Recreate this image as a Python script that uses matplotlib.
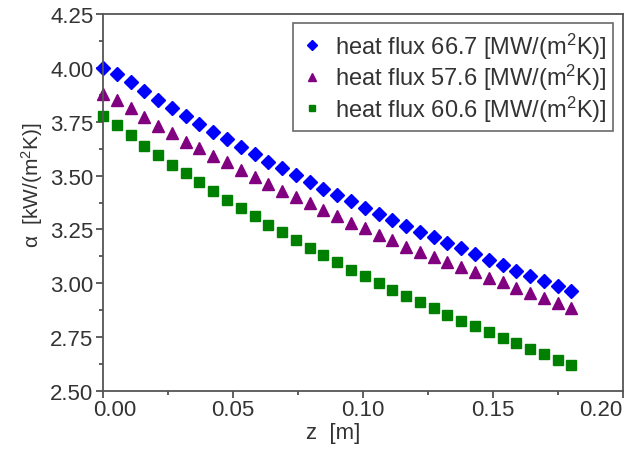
import numpy as np
import matplotlib
matplotlib.use("Agg")
import matplotlib.pyplot as plt
from matplotlib.ticker import MultipleLocator, FormatStrFormatter
from matplotlib.transforms import ScaledTranslation

plt.rcParams['font.family'] = ['Liberation Sans', 'DejaVu Sans']
plt.rcParams['mathtext.fontset'] = 'custom'
plt.rcParams['mathtext.rm'] = 'Liberation Sans'
plt.rcParams['mathtext.default'] = 'regular'

# axial position z [m]
z = [0.0, 0.0053, 0.0106, 0.0159, 0.0212, 0.0265, 0.0318, 0.0371, 0.0424, 0.0477,
     0.0530, 0.0583, 0.0636, 0.0689, 0.0742, 0.0795, 0.0848, 0.0901, 0.0954, 0.1007,
     0.1060, 0.1113, 0.1166, 0.1219, 0.1272, 0.1325, 0.1378, 0.1431, 0.1484, 0.1537,
     0.1590, 0.1643, 0.1696, 0.1749, 0.1802]

# heat transfer coefficient alpha [kW/(m2K)]
alpha_667 = [4.000, 3.971, 3.933, 3.891, 3.852, 3.814, 3.775, 3.739, 3.704, 3.670,
             3.634, 3.600, 3.564, 3.535, 3.503, 3.472, 3.438, 3.411, 3.381, 3.349,
             3.322, 3.295, 3.267, 3.239, 3.213, 3.186, 3.162, 3.136, 3.108, 3.085,
             3.058, 3.035, 3.012, 2.989, 2.966]
alpha_576 = [3.879, 3.852, 3.812, 3.773, 3.731, 3.696, 3.657, 3.628, 3.592, 3.562,
             3.527, 3.492, 3.461, 3.427, 3.402, 3.373, 3.340, 3.314, 3.280, 3.257,
             3.226, 3.202, 3.170, 3.147, 3.121, 3.097, 3.074, 3.051, 3.025, 3.005,
             2.978, 2.955, 2.932, 2.908, 2.884]
alpha_606 = [3.778, 3.736, 3.688, 3.639, 3.595, 3.550, 3.511, 3.469, 3.427, 3.387,
             3.348, 3.311, 3.271, 3.237, 3.201, 3.162, 3.131, 3.097, 3.063, 3.032,
             3.000, 2.970, 2.942, 2.912, 2.885, 2.854, 2.826, 2.800, 2.772, 2.746,
             2.722, 2.695, 2.672, 2.645, 2.622]

xticks = [0.0, 0.05, 0.10, 0.15, 0.20]
xticklabels = ["0.00", "0.05", "0.10", "0.15", "0.20"]

labels = ["heat flux 66.7 [MW/(m$^2$K)]",
          "heat flux 57.6 [MW/(m$^2$K)]",
          "heat flux 60.6 [MW/(m$^2$K)]"]

txt = '#333333'
fig = plt.figure(figsize=(6.38, 4.52), dpi=100)
ax = fig.add_axes([0.1614, 0.1327, 0.815, 0.834])

ax.plot(z, alpha_667, ls='none', marker='D', ms=7, color='#0000ff', label=labels[0], clip_on=False)
ax.plot(z, alpha_576, ls='none', marker='^', ms=8, color='#800080', label=labels[1], clip_on=False)
ax.plot(z, alpha_606, ls='none', marker='s', ms=6.5, color='#008000', label=labels[2], clip_on=False)

ax.set_xlim(0, 0.20); ax.set_ylim(2.50, 4.25)
ax.set_xticks(xticks); ax.set_xticklabels([])
ax.xaxis.set_minor_locator(MultipleLocator(0.025))
ax.yaxis.set_major_locator(MultipleLocator(0.25)); ax.yaxis.set_minor_locator(MultipleLocator(0.125))
ax.yaxis.set_major_formatter(FormatStrFormatter('%.2f'))
ax.tick_params(which='both', direction='out', colors='#444444', labelcolor=txt, labelsize=16, width=1.2)
ax.tick_params(which='major', length=5); ax.tick_params(which='minor', length=3)
ax.tick_params(axis='y', pad=2)
for s in ax.spines.values():
    s.set_color('#555555'); s.set_linewidth(1.3)

# x tick labels by hand: the two end labels are nudged inwards (px), as in the original
nudge_px = {0: 12, len(xticks) - 1: -22}
xtrans = ax.get_xaxis_transform()
for i, (xv, lab) in enumerate(zip(xticks, xticklabels)):
    tr = xtrans + ScaledTranslation(nudge_px.get(i, 0) / 100, 0, fig.dpi_scale_trans)
    ax.text(xv, -0.022, lab, transform=tr, ha='center', va='top', fontsize=16, color=txt, clip_on=False)

ax.set_xlabel("z  [m]", fontsize=16, color=txt)
ax.xaxis.set_label_coords(0.442, -0.082)
ax.set_ylabel(r"$\alpha$  [kW/(m$^2$K)]", fontsize=15, color=txt)
ax.yaxis.set_label_coords(-0.112, 0.55)

leg = ax.legend(loc='upper right', fontsize=17, frameon=True, fancybox=False, handletextpad=0.45,
                borderpad=0.3, labelspacing=0.05, handlelength=1.0, markerscale=0.75, borderaxespad=0.4)
leg.get_frame().set_edgecolor('#444444'); leg.get_frame().set_linewidth(1.2)
for t in leg.get_texts():
    t.set_color(txt)

plt.savefig("out.png", dpi=100)
